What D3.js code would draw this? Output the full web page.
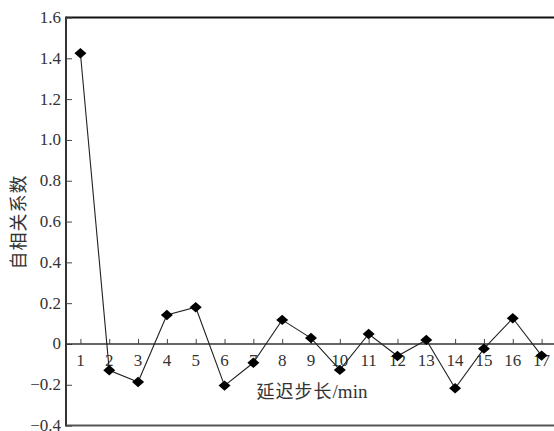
<!DOCTYPE html>
<html>
<head>
<meta charset="utf-8">
<script src="https://cdn.jsdelivr.net/npm/d3@7/dist/d3.min.js"></script>
<style>
  html, body { margin: 0; padding: 0; background: #fff; }
  svg { display: block; }
</style>
</head>
<body>
<svg id="chart" width="554" height="431"></svg>
<script>
// Autocorrelation coefficient for each lag step (minutes)
const lags = [1, 2, 3, 4, 5, 6, 7, 8, 9, 10, 11, 12, 13, 14, 15, 16, 17];
const acf = [1.425, -0.129, -0.186, 0.142, 0.18, -0.204, -0.092, 0.118, 0.029, -0.127, 0.049, -0.059, 0.02, -0.217, -0.023, 0.126, -0.057];
const yTicks = [-0.4, -0.2, 0, 0.2, 0.4, 0.6, 0.8, 1.0, 1.2, 1.4, 1.6];
const yTickLabels = ["\u22120.4", "\u22120.2", "0", "0.2", "0.4", "0.6", "0.8", "1.0", "1.2", "1.4", "1.6"];
const xTitleCjk = "延迟步长";
const xTitleUnit = "/min";
const yTitle = "自相关系数";

const serif = "'Liberation Serif', 'Times New Roman', 'DejaVu Serif', serif";
const cjk = "'Noto Sans CJK SC', sans-serif";

const svg = d3.select("#chart");
const plotL = 66, plotT = 17.5, plotB = 425.6, plotR = 556;

const x = d3.scaleLinear().domain([0.5, 17.5]).range([plotL, plotR]);
const y = d3.scaleLinear().domain([-0.4, 1.6]).range([plotB, plotT]);

// Frame: left and top edges dark, bottom edge grey
svg.append("line").attr("x1", plotL).attr("x2", 554).attr("y1", plotT).attr("y2", plotT)
  .attr("stroke", "#111").attr("stroke-width", 2);
svg.append("line").attr("x1", plotL).attr("x2", plotL).attr("y1", plotT - 1).attr("y2", plotB + 1)
  .attr("stroke", "#333").attr("stroke-width", 2);
svg.append("line").attr("x1", plotL).attr("x2", 554).attr("y1", plotB).attr("y2", plotB)
  .attr("stroke", "#555").attr("stroke-width", 2);

// Y axis: inward ticks, labels on the left
const yAxis = d3.axisRight(y).tickValues(yTicks).tickSize(6).tickFormat("");
const gy = svg.append("g").attr("transform", `translate(${plotL},0)`).call(yAxis);
gy.select(".domain").remove();
gy.selectAll(".tick line").attr("stroke", "#444");
svg.append("g").selectAll("text").data(yTicks).join("text")
  .attr("font-family", serif).attr("font-size", 17).attr("fill", "#333")
  .attr("x", 61).attr("y", d => y(d) + 5.5)
  .attr("text-anchor", "end")
  .text((d, i) => yTickLabels[i]);

// X axis along y = 0 with upward ticks
const xAxis = d3.axisTop(x).tickValues(lags).tickSize(5).tickFormat("");
const gx = svg.append("g").attr("transform", `translate(0,${y(0)})`).call(xAxis);
gx.select(".domain").attr("d", `M${plotL},0H554`).attr("stroke", "#333").attr("stroke-width", 1.3);
gx.selectAll(".tick line").attr("stroke", "#444");
svg.append("g").selectAll("text").data(lags).join("text")
  .attr("font-family", serif).attr("font-size", 17).attr("fill", "#333")
  .attr("x", d => x(d)).attr("y", y(0) + 22)
  .attr("text-anchor", "middle")
  .text(d => d);

// Series line
const pts = lags.map((l, i) => [l, acf[i]]);
svg.append("path")
  .attr("d", d3.line().x(d => x(d[0])).y(d => y(d[1]))(pts))
  .attr("fill", "none").attr("stroke", "#222").attr("stroke-width", 1.1);

// Diamond markers
svg.append("g").selectAll("path").data(pts).join("path")
  .attr("transform", d => `translate(${x(d[0])},${y(d[1])})`)
  .attr("d", "M0,-5.2L6,0L0,5.2L-6,0Z")
  .attr("fill", "#000");

// Axis titles
const xt = svg.append("text")
  .attr("x", 312).attr("y", 398).attr("text-anchor", "middle").attr("fill", "#333");
xt.append("tspan").attr("font-family", cjk).attr("font-size", 18).attr("letter-spacing", 1).text(xTitleCjk);
xt.append("tspan").attr("font-family", serif).attr("font-size", 19).text(xTitleUnit);
svg.append("text")
  .attr("font-family", cjk).attr("font-size", 18).attr("fill", "#333")
  .attr("transform", "translate(25,222) rotate(-90)")
  .attr("text-anchor", "middle")
  .attr("letter-spacing", 1)
  .text(yTitle);
</script>
</body>
</html>
